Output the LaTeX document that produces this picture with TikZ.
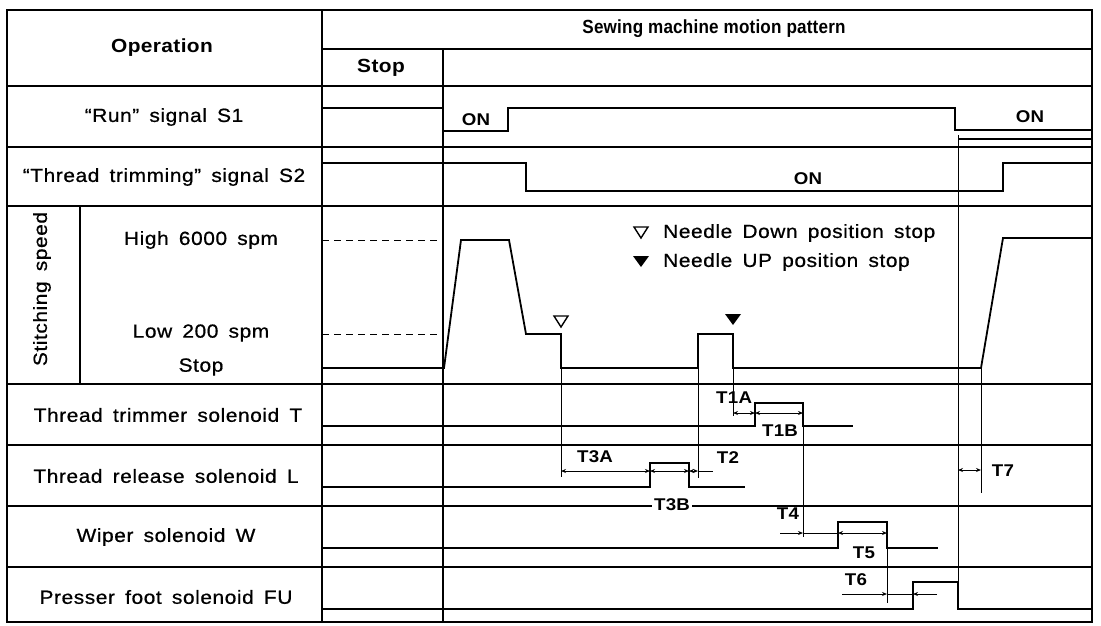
\documentclass[tikz,border=0pt]{standalone}
\usepackage{fontspec}
\setmainfont{Liberation Sans}[FakeStretch=1.1,LetterSpace=3,WordSpace=1.6,FakeBold=0.7]
\newfontfamily\hbf{Liberation Sans Bold}[FakeStretch=1.1,LetterSpace=2]
\newfontfamily\hdrf{Liberation Sans Bold}[FakeStretch=0.9,LetterSpace=1]
\usetikzlibrary{arrows.meta}
\begin{document}
\begin{tikzpicture}[x=1pt,y=-1pt,
  grid/.style={line width=1.3pt},
  sig/.style={line width=1.8pt, line join=miter},
  ext/.style={line width=1pt},
  dimboth/.style={line width=1pt, {Stealth[length=5pt,width=4pt]}-{Stealth[length=5pt,width=4pt]}},
  dimto/.style={line width=1pt, -{Stealth[length=5pt,width=4pt]}},
  dimplain/.style={line width=1pt},
  lbl/.style={font=\fontsize{19}{22}\selectfont, inner sep=1pt},
  hb/.style={font=\hbf\fontsize{19}{22}\selectfont, inner sep=1pt},
  tl/.style={font=\hbf\fontsize{17}{20}\selectfont, inner sep=1pt},
  tlw/.style={tl, fill=white, inner xsep=2pt},
  tri/.style={line width=1.4pt, line join=miter},
]
\useasboundingbox (0,0) rectangle (1101,625);
% ---------- grid ----------
\draw[grid] (7,10) rectangle (1092,622);
\draw[grid] (322,49) -- (1092,49);
\foreach \yy in {86,147,206,384,445,506,567}{\draw[grid] (7,\yy) -- (1092,\yy);}
\draw[grid] (322,10) -- (322,622);
\draw[grid] (443,49) -- (443,622);
\draw[grid] (80,206) -- (80,384);
% ---------- header texts ----------
\node[inner sep=1pt, font=\hdrf\fontsize{19}{22}\selectfont] (hdr) at (714,29) {Sewing machine motion pattern};
\node[hb] (op) at (162,48) {Operation};
\node[hb] (stp) at (381,68) {Stop};
% ---------- row labels ----------
\node[lbl] (ls1) at (164,117) {“Run” signal S1};
\node[lbl] (ls2) at (164,177) {“Thread trimming” signal S2};
\node[lbl, rotate=90] (lss) at (42,289) {Stitching speed};
\node[lbl] (lhi) at (201,240) {High 6000 spm};
\node[lbl] (llo) at (201,333) {Low 200 spm};
\node[lbl] (lst) at (201,367) {Stop};
\node[lbl] (lt) at (168,415) {Thread trimmer solenoid T};
\node[lbl] (ll) at (166,476) {Thread release solenoid L};
\node[lbl] (lw) at (166,537) {Wiper solenoid W};
\node[lbl] (lfu) at (166,597) {Presser foot solenoid FU};
% ---------- S1 ----------
\draw[sig] (322,108) -- (443,108) -- (443,131) -- (508,131) -- (508,108) -- (955,108) -- (955,130) -- (1092,130);
\draw[grid] (958,139) -- (1092,139);
\node[tl] (on1) at (476,120) {ON};
\node[tl] (on2) at (1030,117) {ON};
% ---------- S2 ----------
\draw[sig] (322,163) -- (526,163) -- (526,191) -- (1003,191) -- (1003,163) -- (1092,163);
\node[tl] (on3) at (808,179) {ON};
% ---------- speed ----------
\draw[ext, dash pattern=on 7pt off 5pt] (322,240) -- (441,240);
\draw[ext, dash pattern=on 7pt off 5pt] (322,334) -- (438,334);
\draw[sig] (322,368) -- (444,368) -- (461,240) -- (509,240) -- (526,334) -- (561,334) -- (561,368) -- (698,368) -- (698,334) -- (733,334) -- (733,368) -- (981,368) -- (1003,238) -- (1092,238);
\draw[tri] (554,316) -- (568,316) -- (561,327) -- cycle;
\fill (725,314) -- (741,314) -- (733,325) -- cycle;
% legend
\draw[tri] (634,227) -- (648,227) -- (641,238) -- cycle;
\fill (633,256) -- (649,256) -- (641,267) -- cycle;
\node[lbl, anchor=west] (lg1) at (662,233) {Needle Down position stop};
\node[lbl, anchor=west] (lg2) at (662,262) {Needle UP position stop};
% ---------- solenoids ----------
\draw[sig] (322,426) -- (755,426) -- (755,403) -- (803,403) -- (803,426) -- (853,426);
\draw[sig] (322,487) -- (650,487) -- (650,463) -- (689,463) -- (689,487) -- (745,487);
\draw[sig] (322,548) -- (838,548) -- (838,522) -- (887,522) -- (887,548) -- (938,548);
\draw[sig] (322,609) -- (913,609) -- (913,582) -- (958,582) -- (958,609) -- (1092,609);
% ---------- extension lines ----------
\draw[ext] (561,368) -- (561,477);
\draw[ext] (698,368) -- (698,478);
\draw[ext] (733,368) -- (733,416);
\draw[ext] (803,426) -- (803,537);
\draw[ext] (887,548) -- (887,603);
\draw[ext] (958,135) -- (958,582);
\draw[ext] (981,368) -- (981,493);
% ---------- dimensions ----------
\draw[dimboth] (733,413) -- (755,413);
\draw[dimboth] (755,413) -- (803,413);
\node[tl] (t1a) at (734,398) {T1A};
\node[tl] (t1b) at (780,431) {T1B};
\draw[dimboth] (561,471) -- (650,471);
\draw[dimboth] (650,471) -- (689,471);
\draw[dimboth] (689,471) -- (698,471);
\draw[dimplain] (698,471) -- (713,471);
\node[tl] (t3a) at (595,457) {T3A};
\node[tlw] (t3b) at (672,505) {T3B};
\node[tl] (t2) at (728,458) {T2};
\draw[dimto] (780,533) -- (803,533);
\draw[dimplain] (803,533) -- (838,533);
\draw[dimboth] (838,533) -- (887,533);
\node[tl] (t4) at (788,514) {T4};
\node[tl] (t5) at (864,553) {T5};
\draw[dimto] (842,594) -- (887,594);
\draw[dimplain] (887,594) -- (913,594);
\draw[dimto] (937,594) -- (913,594);
\node[tl] (t6) at (856,580) {T6};
\draw[dimboth] (958,470) -- (981,470);
\node[tl] (t7) at (1003,471) {T7};
\end{tikzpicture}
\end{document}
